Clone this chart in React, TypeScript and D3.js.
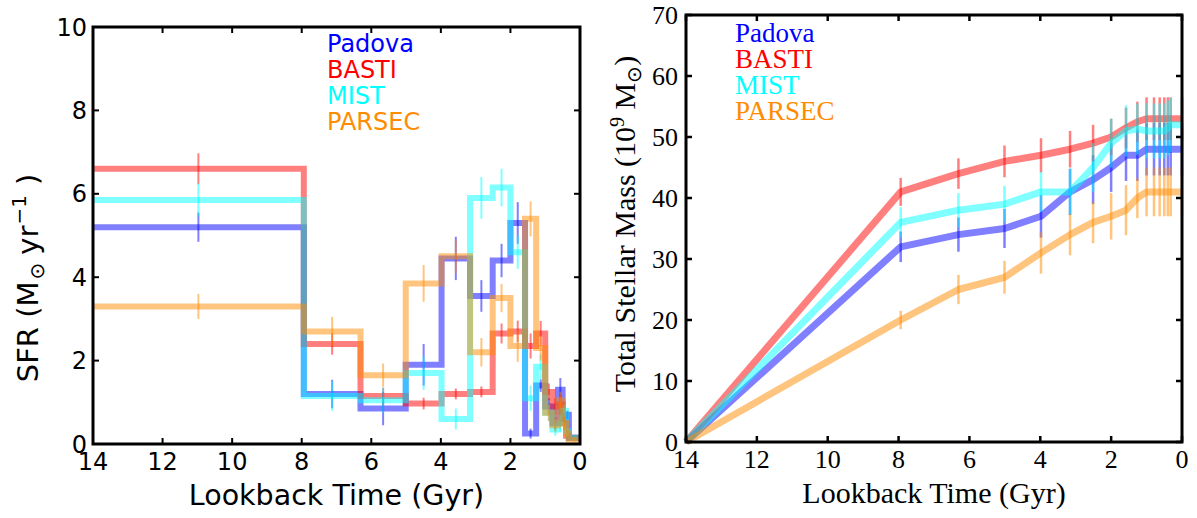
import React from "react";
import * as d3 from "d3";

// ---- Star formation history (left panel) ----
// Bin edges in lookback time (Gyr), oldest first
const binEdges = [14, 7.94, 6.31, 5.01, 3.98, 3.16, 2.51, 2.0, 1.58, 1.26, 1.0, 0.79, 0.63, 0.5, 0.4, 0.32, 0];

const modelNames = ["Padova", "BASTI", "MIST", "PARSEC"];
const modelColors = ["#0000ff", "#ff0000", "#00ffff", "#ff8c00"];

// SFR per bin (Msun / yr)
const sfrPadova = [5.2, 1.2, 0.85, 1.9, 4.45, 3.55, 4.4, 5.3, 0.25, 1.4, 0.9, 0.5, 1.3, 0.6, 0.7, 0.15];
const sfrBasti = [6.6, 2.4, 1.15, 0.97, 1.2, 1.25, 2.65, 2.7, 2.35, 2.65, 1.25, 0.9, 0.95, 0.5, 0.2, 0.15];
const sfrMist = [5.85, 1.15, 1.05, 1.7, 0.6, 5.9, 6.15, 4.6, 1.1, 1.85, 0.75, 0.35, 0.5, 0.8, 0.3, 0.15];
const sfrParsec = [3.3, 2.7, 1.65, 3.85, 4.5, 2.2, 3.5, 2.35, 5.4, 2.3, 0.75, 0.45, 1.05, 0.5, 0.25, 0.1];

// Half-widths of the SFR uncertainties
const sfrErrPadova = [0.35, 0.34, 0.4, 0.5, 0.52, 0.38, 0.4, 0.5, 0.12, 0.15, 0.2, 0.15, 0.28, 0.15, 0.1, 0.05];
const sfrErrBasti = [0.37, 0.26, 0.2, 0.14, 0.13, 0.13, 0.24, 0.26, 0.3, 0.3, 0.2, 0.2, 0.25, 0.15, 0.1, 0.05];
const sfrErrMist = [0.4, 0.35, 0.3, 0.4, 0.25, 0.5, 0.45, 0.4, 0.3, 0.3, 0.2, 0.15, 0.2, 0.15, 0.1, 0.05];
const sfrErrParsec = [0.3, 0.35, 0.28, 0.44, 0.4, 0.34, 0.34, 0.38, 0.42, 0.3, 0.2, 0.15, 0.2, 0.15, 0.1, 0.05];

// ---- Cumulative stellar mass (right panel) ----
const massTimes = [14, 7.94, 6.31, 5.01, 3.98, 3.16, 2.51, 2.0, 1.58, 1.26, 1.0, 0.79, 0.63, 0.5, 0.4, 0.32, 0];

const massPadova = [0, 32, 34, 35, 37, 41, 43, 45, 47, 47, 48, 48, 48, 48, 48, 48, 48];
const massBasti = [0, 41, 44, 46, 47, 48, 49, 50, 51.5, 52.5, 53, 53, 53, 53, 53, 53, 53];
const massMist = [0, 36, 38, 39, 41, 41, 45, 49, 51, 51.3, 51, 51, 51, 51, 51.5, 52, 52];
const massParsec = [0, 20, 25, 27, 31, 34, 36, 37, 38, 40, 41, 41, 41, 41, 41, 41, 41];

const massErrPadova = [0, 2.5, 2.8, 3.2, 3.5, 3.8, 4, 4, 4.2, 4.2, 4.3, 4.3, 4.3, 4.3, 4.3, 4.3, 4.3];
const massErrBasti = [0, 2.3, 2.5, 2.6, 2.8, 3, 3, 3, 3.3, 3.3, 3.5, 3.5, 3.5, 3.5, 3.5, 3.5, 3.5];
const massErrMist = [0, 2.5, 2.8, 3, 3.3, 3.8, 4, 4, 4.2, 4.2, 4.5, 4.5, 4.5, 4.5, 4.5, 4.5, 4.5];
const massErrParsec = [0, 1.5, 2.4, 2.7, 3.4, 3.4, 3.4, 3.8, 4.1, 3.3, 4, 4, 4, 4, 4, 4, 4];

const xTicks = [14, 12, 10, 8, 6, 4, 2, 0];
const sfrTicks = [0, 2, 4, 6, 8, 10];
const massTicks = [0, 10, 20, 30, 40, 50, 60, 70];

const sfrSeries = [sfrPadova, sfrBasti, sfrMist, sfrParsec];
const sfrErrSeries = [sfrErrPadova, sfrErrBasti, sfrErrMist, sfrErrParsec];
const massSeries = [massPadova, massBasti, massMist, massParsec];
const massErrSeries = [massErrPadova, massErrBasti, massErrMist, massErrParsec];

const SANS = "'DejaVu Sans', sans-serif";
const SERIF = "'Liberation Serif', 'Times New Roman', serif";

function Frame({ x0, x1, y0, y1, sw }: { x0: number; x1: number; y0: number; y1: number; sw: number }) {
  return <rect x={x0} y={y0} width={x1 - x0} height={y1 - y0} fill="none" stroke="#000" strokeWidth={sw} />;
}

function SfrPanel() {
  const L = 93, R = 580, T = 27, B = 444;
  const x = d3.scaleLinear().domain([14, 0]).range([L, R]);
  const y = d3.scaleLinear().domain([0, 10]).range([B, T]);
  const step = d3
    .line<number>()
    .x((_, i) => x(binEdges[i]))
    .y((v) => y(v))
    .curve(d3.curveStepAfter);
  return (
    <g>
      {sfrSeries.map((vals, k) => {
        const pts = binEdges.map((_, i) => vals[Math.min(i, vals.length - 1)]);
        return (
          <g key={k}>
            <path d={step(pts) || ""} fill="none" stroke={modelColors[k]} strokeOpacity={0.5} strokeWidth={6} strokeLinejoin="miter" />
            {vals.map((v, i) => {
              const c = (binEdges[i] + binEdges[i + 1]) / 2;
              const e = sfrErrSeries[k][i];
              return (
                <line key={i} x1={x(c)} x2={x(c)} y1={y(v - e)} y2={y(v + e)} stroke={modelColors[k]} strokeOpacity={0.5} strokeWidth={2} />
              );
            })}
          </g>
        );
      })}
      {xTicks.map((t) => (
        <g key={"x" + t}>
          <line x1={x(t)} x2={x(t)} y1={B} y2={B - 6} stroke="#000" strokeWidth={2} />
          <line x1={x(t)} x2={x(t)} y1={T} y2={T + 6} stroke="#000" strokeWidth={2} />
          <text x={x(t)} y={470} fontFamily={SANS} fontSize={24} textAnchor="middle">{t}</text>
        </g>
      ))}
      {sfrTicks.map((t) => (
        <g key={"y" + t}>
          <line x1={L} x2={L + 6} y1={y(t)} y2={y(t)} stroke="#000" strokeWidth={2} />
          <line x1={R} x2={R - 6} y1={y(t)} y2={y(t)} stroke="#000" strokeWidth={2} />
          <text x={87} y={y(t)} dy="0.36em" fontFamily={SANS} fontSize={24} textAnchor="end">{t}</text>
        </g>
      ))}
      <Frame x0={L} x1={R} y0={T} y1={B} sw={3} />
      {modelNames.map((n, k) => (
        <text key={n} x={327} y={52 + k * 26} fontFamily={SANS} fontSize={24} fill={modelColors[k]}>{n}</text>
      ))}
      <text x={(L + R) / 2} y={505} fontFamily={SANS} fontSize={28.5} textAnchor="middle">Lookback Time (Gyr)</text>
      <text transform="translate(38,278) rotate(-90)" fontFamily={SANS} fontSize={29} textAnchor="middle">
        SFR (M<tspan fontSize={20} dx={2} dy={6}>⊙</tspan>
        <tspan dx={8} dy={-6}>yr</tspan>
        <tspan fontSize={20} dx={1} dy={-12}>−1</tspan>
        <tspan dx={10} dy={12}>)</tspan>
      </text>
    </g>
  );
}

function MassPanel() {
  const L = 686, R = 1182, T = 15, B = 442;
  const x = d3.scaleLinear().domain([14, 0]).range([L, R]);
  const y = d3.scaleLinear().domain([0, 70]).range([B, T]);
  const line = d3
    .line<number>()
    .x((_, i) => x(massTimes[i]))
    .y((v) => y(v));
  return (
    <g>
      {massSeries.map((vals, k) => (
        <g key={k}>
          <path d={line(vals) || ""} fill="none" stroke={modelColors[k]} strokeOpacity={0.5} strokeWidth={7} strokeLinejoin="round" />
          {vals.map((v, i) => {
            const e = massErrSeries[k][i];
            if (e <= 0) return null;
            return (
              <line key={i} x1={x(massTimes[i])} x2={x(massTimes[i])} y1={y(v - e)} y2={y(v + e)} stroke={modelColors[k]} strokeOpacity={0.5} strokeWidth={2.5} />
            );
          })}
        </g>
      ))}
      {xTicks.map((t) => (
        <g key={"x" + t}>
          <line x1={x(t)} x2={x(t)} y1={B} y2={B - 6} stroke="#000" strokeWidth={2.5} />
          <line x1={x(t)} x2={x(t)} y1={T} y2={T + 6} stroke="#000" strokeWidth={2.5} />
          <text x={x(t)} y={468} fontFamily={SERIF} fontSize={26} textAnchor="middle">{t}</text>
        </g>
      ))}
      {massTicks.map((t) => (
        <g key={"y" + t}>
          <line x1={L} x2={L + 6} y1={y(t)} y2={y(t)} stroke="#000" strokeWidth={2.5} />
          <line x1={R} x2={R - 6} y1={y(t)} y2={y(t)} stroke="#000" strokeWidth={2.5} />
          <text x={678} y={y(t)} dy="0.33em" fontFamily={SERIF} fontSize={26} textAnchor="end">{t}</text>
        </g>
      ))}
      <Frame x0={L} x1={R} y0={T} y1={B} sw={3} />
      {modelNames.map((n, k) => (
        <text key={n} x={735} y={42 + k * 26} fontFamily={SERIF} fontSize={27} fill={modelColors[k]}>{n}</text>
      ))}
      <text x={(L + R) / 2} y={503} fontFamily={SERIF} fontSize={30} textAnchor="middle">Lookback Time (Gyr)</text>
      <text transform="translate(635,224) rotate(-90)" fontFamily={SERIF} fontSize={30} textAnchor="middle">
        Total Stellar Mass (10<tspan fontSize={20} dy={-11}>9</tspan>
        <tspan dy={11}> M</tspan>
        <tspan fontSize={20} dy={6}>⊙</tspan>
        <tspan dy={-6}>)</tspan>
      </text>
    </g>
  );
}

export default function App() {
  return (
    <svg
      width={1197}
      height={518}
      style={{ position: "absolute", left: 0, top: 0, background: "#fff" }}
      xmlns="http://www.w3.org/2000/svg"
    >
      <rect width={1197} height={518} fill="#fff" />
      <SfrPanel />
      <MassPanel />
    </svg>
  );
}
